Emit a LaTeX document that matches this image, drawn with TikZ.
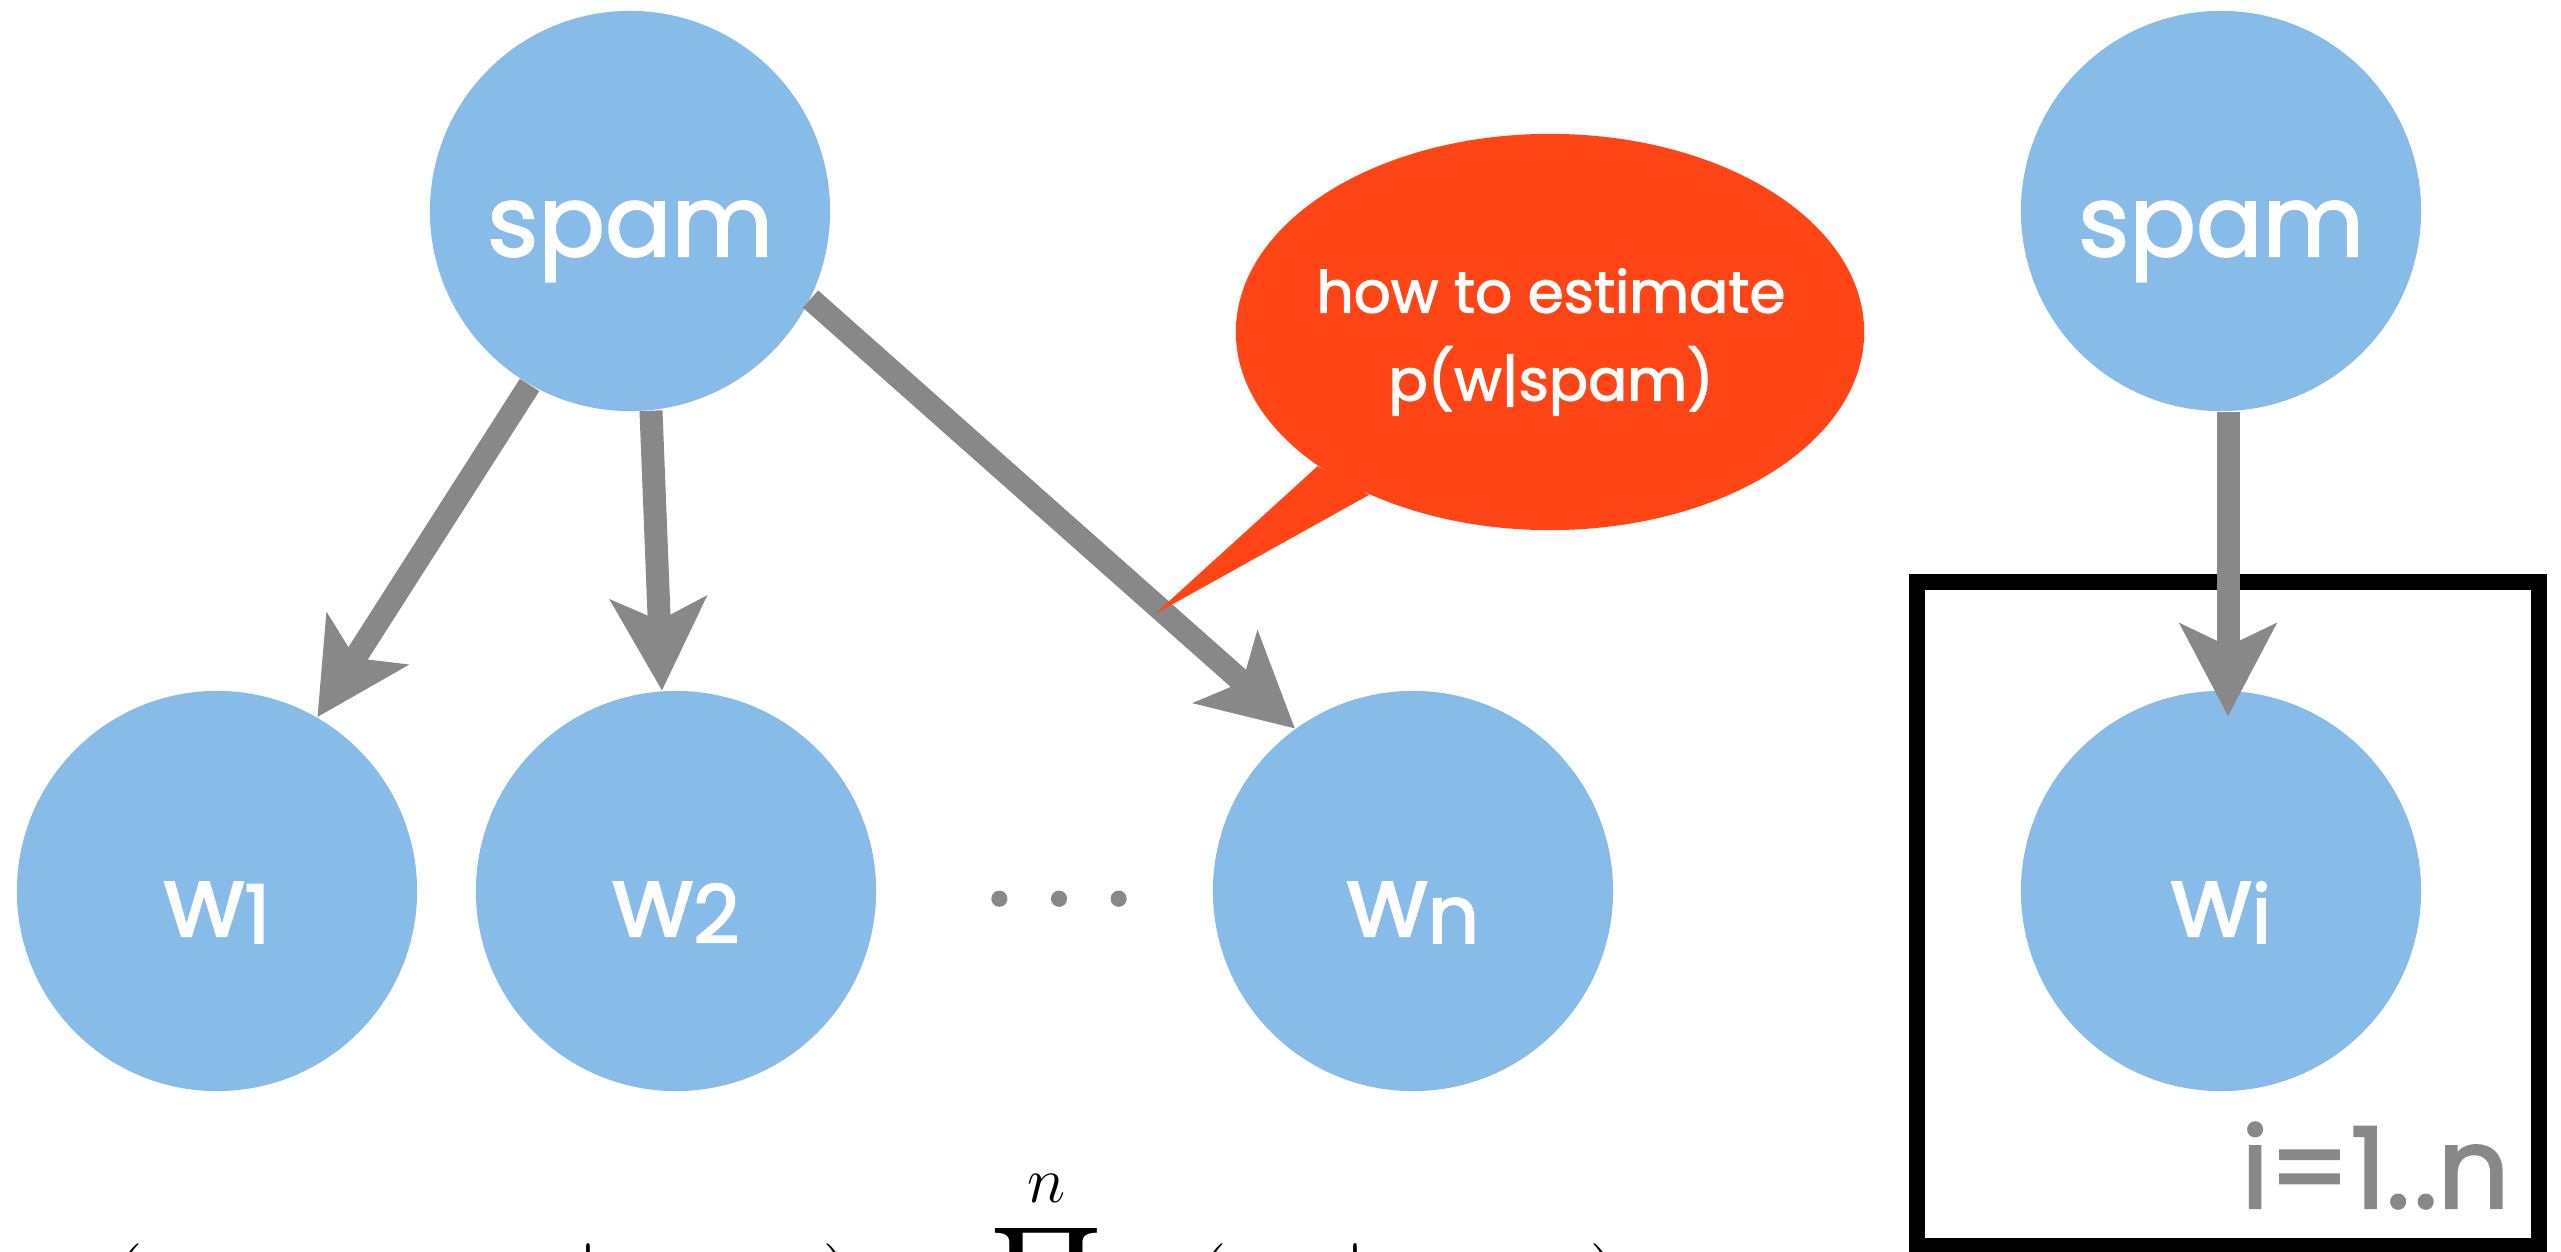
\documentclass[tikz,border=0pt]{standalone}
\usepackage{fix-cm}
\usepackage{amsmath}
\usepackage[no-math]{fontspec}
\newfontfamily\futura{Poppins}[FakeBold=2]
\usepackage{xcolor}
\definecolor{colorNode}{RGB}{135,188,232}
\definecolor{colorArrow}{RGB}{136,136,136}
\definecolor{colorBubble}{RGB}{255,69,21}
\usetikzlibrary{arrows.meta, positioning, shapes.geometric}
\tikzset{var/.style={circle, fill=colorNode, text=white, minimum size=4cm, inner sep=0pt, text height=1.14cm, text depth=0.24cm, font=\futura\fontsize{28}{28}\selectfont},
  edgeArrow/.style={->, colorArrow, line width=0.23cm},
  plate/.style={line width=0.16cm},
  bubble/.style={ellipse, fill=colorBubble, minimum width=6.28cm, minimum height=3.96cm, inner sep=0pt},
  grey text/.style={text=colorArrow, font=\futura\fontsize{32}{32}\selectfont}}
\newcommand{\wsub}[1]{w\raisebox{-0.07cm}{\fontsize{23}{23}\selectfont #1}}

\begin{document}
\begin{tikzpicture}[x=0.01cm, y=-0.01cm, >={Stealth[length=0.92cm, width=0.95cm, inset=0.22cm]}]
\useasboundingbox (0,0) rectangle (2561,1252);
\node[var] (q0) at (630,211) {spam};
\node[var] (q1) at (217,891) {\wsub{1}};
\node[var] (q2) at (676,891) {\wsub{2}};
\node[var] (q3) at (1413,891) {\wsub{n}};
\node[var] (q4) at (2221,211) {spam};
\node[var] (q5) at (2221,891) {\wsub{i}};
\node[grey text, anchor=base] (dots) at (1059,905) {.\hspace{0.36cm}.\hspace{0.36cm}.};
\draw[plate] (1917,582) rectangle (2539,1246);
\node[grey text, anchor=base east] (range) at (2522,1208) {i=1.\hspace{0.04cm}.n};
\draw[edgeArrow] (q0.-120) -- (q1.60);
\draw[edgeArrow] (q0.-84) -- (q2.94);
\draw[edgeArrow] (q0.-26) -- (q3.126);
\draw[edgeArrow] (q4.-88) -- ([yshift=-0.26cm]q5.88);
\node[bubble] (bub) at (1550,332) {};
\coordinate (tail) at (1155,614);
\fill[colorBubble] (bub.-150) -- (tail) -- (bub.-138) -- cycle;
\node[text=white, align=center, font=\futura\fontsize{16.5}{25}\selectfont] (question) at (1551,342) {how to estimate\\p(w|spam)};
\node[anchor=base west, font=\fontsize{26.5}{30}\selectfont] (eq) at (52,1313) {$\displaystyle p(w_1,\ldots,w_n\mid\mathrm{spam}) \mkern1.5mu=\mkern1.5mu \prod_{i=1}^{n}\mkern6mu p(w_i\mid\mathrm{spam})$};
\end{tikzpicture}
\end{document}
